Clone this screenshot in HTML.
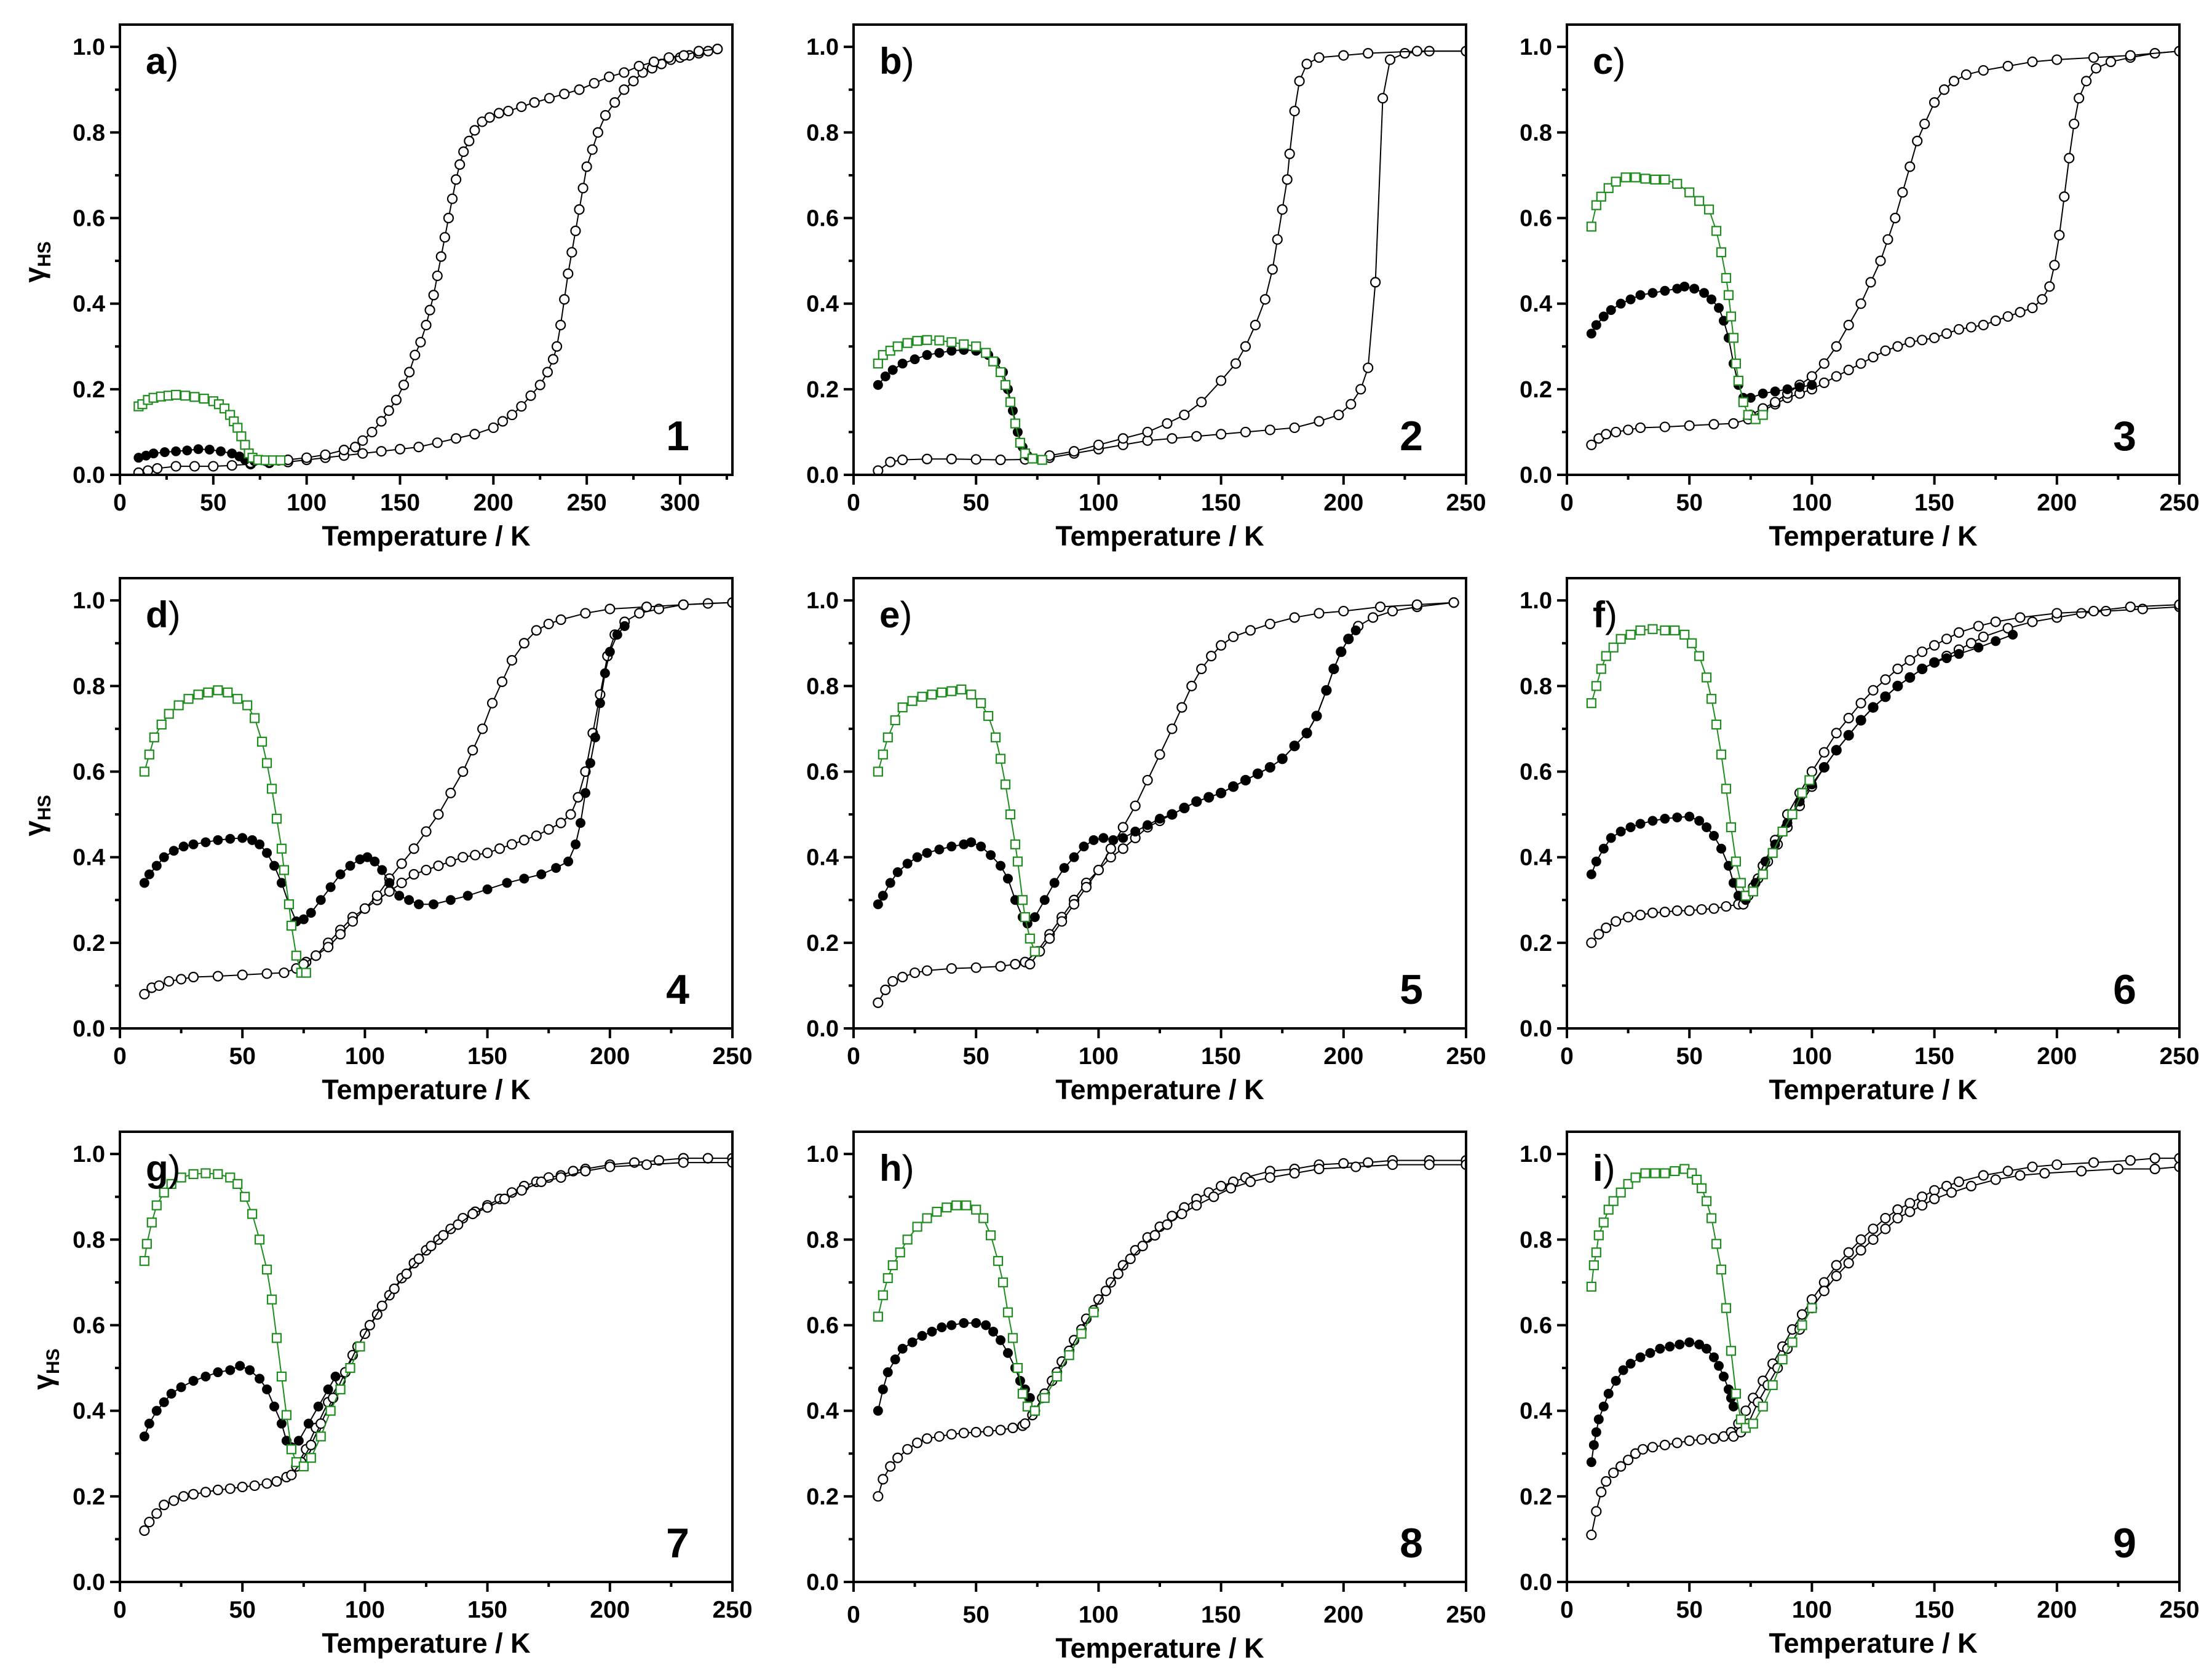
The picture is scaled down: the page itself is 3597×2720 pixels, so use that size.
<!DOCTYPE html>
<html><head><meta charset="utf-8"><style>
html,body{margin:0;padding:0;background:#fff}
svg{display:block}
text{font-family:"Liberation Sans",Arial,sans-serif;font-weight:bold;fill:#000}
</style></head><body>
<svg id="fig" width="3597" height="2720" viewBox="0 0 3597 2720" xmlns="http://www.w3.org/2000/svg"></svg>
<script>
// ---- data: [Temperature K, gamma_HS] ----
const a_open1=[[10,0.005],[15,0.01],[20,0.015],[30,0.02],[40,0.02],[50,0.02],[60,0.022],[70,0.025],[80,0.028],[90,0.03],[100,0.035],[110,0.04],[120,0.045],[130,0.05],[140,0.055],[150,0.06],[160,0.065],[170,0.075],[180,0.085],[190,0.095],[200,0.11],[205,0.125],[210,0.14],[215,0.16],[220,0.185],[225,0.21],[229,0.24],[232,0.27],[234,0.3],[236,0.35],[238,0.41],[240,0.47],[242,0.52],[244,0.57],[246,0.62],[248,0.67],[250,0.72],[253,0.76],[256,0.8],[260,0.84],[265,0.87],[270,0.9],[275,0.92],[280,0.94],[285,0.95],[290,0.96],[295,0.97],[300,0.975],[305,0.98],[310,0.985],[315,0.99],[320,0.995]];
const a_open2=[[70,0.028],[80,0.03],[90,0.035],[100,0.04],[110,0.047],[120,0.058],[126,0.065],[130,0.08],[135,0.1],[140,0.125],[144,0.15],[148,0.175],[152,0.21],[155,0.24],[158,0.28],[161,0.31],[164,0.35],[166,0.385],[168,0.42],[170,0.465],[172,0.51],[174,0.555],[176,0.6],[178,0.645],[180,0.69],[182,0.725],[184,0.755],[187,0.78],[190,0.805],[194,0.825],[198,0.835],[203,0.845],[208,0.85],[215,0.86],[222,0.87],[230,0.88],[238,0.89],[246,0.9],[254,0.915],[262,0.93],[270,0.94],[278,0.955],[286,0.965],[294,0.975],[302,0.98],[310,0.99],[320,0.995]];
const a_fill=[[10,0.04],[14,0.045],[18,0.05],[24,0.053],[30,0.055],[36,0.057],[42,0.06],[48,0.059],[54,0.055],[60,0.05],[64,0.043],[67,0.035],[72,0.032],[78,0.032],[85,0.033]];
const a_green=[[10,0.16],[12,0.165],[15,0.175],[18,0.18],[22,0.183],[26,0.185],[30,0.187],[35,0.185],[40,0.182],[45,0.178],[50,0.172],[53,0.165],[56,0.155],[59,0.14],[61,0.125],[63,0.11],[65,0.09],[67,0.07],[69,0.05],[71,0.04],[74,0.035],[78,0.034],[82,0.034],[86,0.034]];

const b_open1=[[10,0.01],[15,0.03],[20,0.035],[30,0.037],[40,0.037],[50,0.036],[60,0.035],[70,0.036],[80,0.04],[90,0.05],[100,0.06],[110,0.07],[120,0.08],[130,0.085],[140,0.09],[150,0.095],[160,0.1],[170,0.105],[180,0.11],[190,0.125],[198,0.14],[203,0.165],[207,0.2],[210,0.25],[213,0.45],[216,0.88],[219,0.97],[225,0.985],[235,0.99],[250,0.99]];
const b_open2=[[80,0.045],[90,0.055],[100,0.07],[110,0.085],[120,0.1],[128,0.12],[135,0.14],[142,0.17],[150,0.22],[156,0.26],[160,0.3],[164,0.35],[168,0.41],[171,0.48],[173,0.55],[175,0.62],[177,0.69],[178,0.75],[180,0.85],[182,0.92],[185,0.96],[190,0.975],[200,0.98],[210,0.985],[230,0.99],[250,0.99]];
const b_fill=[[10,0.21],[13,0.23],[16,0.245],[20,0.26],[25,0.27],[30,0.28],[35,0.285],[40,0.29],[45,0.292],[50,0.29],[55,0.28],[58,0.265],[61,0.24],[63,0.2],[65,0.15],[67,0.1],[69,0.065],[71,0.045]];
const b_green=[[10,0.26],[12,0.28],[15,0.29],[18,0.3],[22,0.308],[26,0.313],[30,0.315],[35,0.314],[40,0.31],[45,0.305],[50,0.3],[54,0.285],[57,0.265],[60,0.24],[62,0.21],[64,0.17],[66,0.12],[68,0.075],[70,0.05],[73,0.038],[77,0.035]];

const c_open1=[[10,0.07],[13,0.085],[16,0.095],[20,0.1],[25,0.105],[30,0.11],[40,0.112],[50,0.115],[60,0.118],[68,0.12],[74,0.13],[80,0.15],[85,0.165],[90,0.18],[95,0.19],[100,0.2],[105,0.215],[110,0.23],[115,0.245],[120,0.26],[125,0.275],[130,0.29],[135,0.3],[140,0.31],[145,0.315],[150,0.32],[155,0.33],[160,0.34],[165,0.345],[170,0.35],[175,0.36],[180,0.37],[185,0.38],[190,0.39],[194,0.41],[197,0.44],[199,0.49],[201,0.56],[203,0.65],[205,0.74],[207,0.82],[209,0.88],[212,0.92],[216,0.95],[222,0.965],[230,0.975],[240,0.985],[250,0.99]];
const c_open2=[[75,0.14],[80,0.155],[85,0.17],[90,0.19],[95,0.21],[100,0.23],[105,0.26],[110,0.3],[115,0.35],[120,0.4],[124,0.45],[128,0.5],[131,0.55],[134,0.6],[137,0.66],[140,0.72],[143,0.78],[146,0.82],[150,0.87],[154,0.9],[158,0.92],[163,0.935],[170,0.945],[180,0.955],[190,0.965],[200,0.97],[215,0.975],[230,0.98],[250,0.99]];
const c_fill=[[10,0.33],[12,0.35],[15,0.37],[18,0.385],[22,0.4],[26,0.41],[30,0.42],[35,0.425],[40,0.43],[45,0.435],[48,0.44],[52,0.435],[56,0.425],[59,0.41],[62,0.39],[64,0.36],[66,0.32],[68,0.26],[70,0.21],[72,0.18],[75,0.18],[80,0.19],[85,0.195],[90,0.2],[95,0.205],[100,0.21]];
const c_green=[[10,0.58],[12,0.63],[14,0.65],[17,0.67],[20,0.685],[24,0.695],[28,0.695],[32,0.692],[36,0.69],[40,0.69],[45,0.68],[50,0.66],[54,0.64],[58,0.62],[61,0.57],[63,0.52],[65,0.46],[66,0.42],[67,0.37],[68,0.32],[69,0.26],[70,0.22],[72,0.17],[74,0.14],[77,0.13],[80,0.14]];

const d_open1=[[10,0.08],[13,0.095],[16,0.1],[20,0.11],[25,0.115],[30,0.12],[40,0.122],[50,0.125],[60,0.128],[67,0.13],[72,0.14],[76,0.155],[80,0.17],[85,0.2],[90,0.23],[95,0.26],[100,0.28],[105,0.3],[110,0.32],[115,0.34],[120,0.36],[125,0.37],[130,0.38],[135,0.39],[140,0.4],[145,0.405],[150,0.41],[155,0.42],[160,0.43],[165,0.44],[170,0.45],[175,0.465],[180,0.48],[184,0.5],[187,0.54],[190,0.6],[193,0.69],[196,0.78],[199,0.87],[202,0.92],[206,0.95],[212,0.97],[220,0.98],[230,0.99],[240,0.993],[250,0.995]];
const d_open2=[[75,0.15],[80,0.17],[85,0.19],[90,0.22],[95,0.25],[100,0.28],[105,0.31],[110,0.35],[115,0.385],[120,0.42],[125,0.46],[130,0.5],[135,0.55],[140,0.6],[144,0.65],[148,0.7],[152,0.76],[156,0.81],[160,0.86],[165,0.9],[170,0.93],[175,0.945],[180,0.955],[190,0.97],[200,0.98],[215,0.985],[230,0.99],[250,0.995]];
const d_fill=[[10,0.34],[12,0.36],[15,0.38],[18,0.4],[22,0.415],[26,0.425],[30,0.43],[35,0.435],[40,0.44],[45,0.443],[50,0.445],[54,0.44],[57,0.43],[60,0.41],[63,0.38],[66,0.34],[69,0.29],[72,0.25],[75,0.255],[78,0.27],[82,0.3],[86,0.33],[90,0.36],[94,0.38],[98,0.395],[101,0.4],[104,0.39],[107,0.37],[110,0.34],[114,0.31],[118,0.3],[122,0.29],[128,0.29],[135,0.3],[142,0.31],[150,0.325],[158,0.34],[165,0.35],[172,0.36],[178,0.375],[183,0.39],[186,0.43],[188,0.48],[190,0.55],[192,0.62],[194,0.68],[196,0.76],[198,0.83],[200,0.88],[203,0.92],[206,0.94]];
const d_green=[[10,0.6],[12,0.64],[14,0.68],[17,0.71],[20,0.735],[24,0.755],[28,0.77],[32,0.78],[36,0.785],[40,0.79],[44,0.785],[48,0.77],[52,0.755],[55,0.725],[58,0.67],[60,0.62],[62,0.56],[64,0.49],[66,0.42],[67,0.37],[69,0.29],[70,0.24],[72,0.17],[74,0.13],[76,0.13]];

const e_open1=[[10,0.06],[13,0.09],[16,0.11],[20,0.12],[25,0.13],[30,0.135],[40,0.14],[50,0.142],[60,0.145],[66,0.15],[70,0.155],[75,0.18],[80,0.22],[85,0.26],[90,0.3],[95,0.34],[100,0.37],[105,0.4],[110,0.42],[115,0.445],[120,0.47],[125,0.485],[130,0.5],[135,0.515],[140,0.53],[145,0.54],[150,0.55],[155,0.565],[160,0.58],[165,0.595],[170,0.61],[175,0.63],[180,0.66],[185,0.69],[189,0.73],[193,0.79],[196,0.84],[199,0.88],[202,0.91],[206,0.94],[212,0.96],[220,0.975],[230,0.985],[245,0.995]];
const e_open2=[[72,0.15],[76,0.18],[80,0.21],[85,0.25],[90,0.29],[95,0.33],[100,0.37],[105,0.42],[110,0.47],[115,0.52],[120,0.58],[125,0.64],[130,0.7],[134,0.75],[138,0.8],[142,0.84],[146,0.87],[150,0.895],[155,0.915],[162,0.93],[170,0.945],[180,0.96],[190,0.97],[200,0.975],[215,0.985],[230,0.99],[245,0.995]];
const e_fill=[[10,0.29],[12,0.31],[15,0.34],[18,0.365],[22,0.385],[26,0.4],[30,0.41],[35,0.418],[40,0.425],[45,0.43],[48,0.435],[52,0.425],[56,0.405],[60,0.38],[63,0.35],[66,0.3],[69,0.26],[71,0.245],[74,0.26],[78,0.3],[82,0.34],[86,0.375],[90,0.4],[94,0.425],[98,0.44],[102,0.445],[106,0.44],[110,0.445],[115,0.46],[120,0.475],[125,0.49],[130,0.5],[135,0.515],[140,0.53],[145,0.54],[150,0.55],[155,0.565],[160,0.58],[165,0.595],[170,0.61],[175,0.63],[180,0.66],[185,0.69],[189,0.73],[193,0.79],[196,0.84],[199,0.88],[202,0.91],[205,0.93]];
const e_green=[[10,0.6],[12,0.64],[14,0.68],[17,0.72],[20,0.75],[24,0.765],[28,0.775],[32,0.78],[36,0.785],[40,0.788],[44,0.792],[48,0.78],[52,0.76],[55,0.73],[58,0.68],[60,0.63],[62,0.57],[64,0.5],[66,0.43],[67,0.39],[69,0.3],[70,0.26],[72,0.21],[74,0.18]];

const f_open1=[[10,0.2],[13,0.22],[16,0.235],[20,0.25],[25,0.26],[30,0.265],[35,0.27],[40,0.272],[45,0.275],[50,0.275],[55,0.278],[60,0.28],[65,0.285],[70,0.29],[74,0.31],[78,0.35],[82,0.39],[86,0.43],[90,0.47],[95,0.52],[100,0.565],[105,0.61],[110,0.65],[115,0.685],[120,0.72],[125,0.75],[130,0.775],[135,0.8],[140,0.82],[145,0.84],[150,0.855],[155,0.87],[160,0.885],[165,0.9],[170,0.915],[180,0.935],[190,0.95],[200,0.96],[210,0.97],[220,0.975],[235,0.98],[250,0.985]];
const f_open2=[[72,0.29],[76,0.33],[80,0.38],[85,0.44],[90,0.5],[95,0.55],[100,0.6],[105,0.645],[110,0.69],[115,0.725],[120,0.76],[125,0.79],[130,0.815],[135,0.84],[140,0.86],[145,0.88],[150,0.895],[155,0.91],[160,0.925],[168,0.94],[175,0.95],[185,0.96],[200,0.97],[215,0.975],[230,0.985],[250,0.99]];
const f_fill=[[10,0.36],[12,0.39],[15,0.42],[18,0.445],[22,0.46],[26,0.47],[30,0.478],[35,0.485],[40,0.49],[45,0.493],[50,0.495],[54,0.485],[57,0.47],[60,0.45],[63,0.42],[66,0.38],[68,0.34],[70,0.31],[73,0.3],[77,0.34],[81,0.39],[85,0.43],[90,0.48],[95,0.53],[100,0.57],[105,0.61],[110,0.65],[115,0.685],[120,0.72],[125,0.75],[130,0.775],[135,0.8],[140,0.82],[145,0.84],[150,0.855],[155,0.865],[160,0.875],[168,0.89],[175,0.905],[182,0.92]];
const f_green=[[10,0.76],[12,0.8],[14,0.84],[16,0.87],[19,0.89],[22,0.91],[26,0.92],[30,0.93],[35,0.933],[40,0.93],[44,0.93],[48,0.92],[51,0.9],[54,0.87],[57,0.82],[59,0.77],[61,0.71],[63,0.64],[65,0.56],[67,0.47],[69,0.39],[71,0.34],[73,0.31],[76,0.32],[80,0.36],[84,0.41],[88,0.46],[92,0.5],[96,0.55],[99,0.58]];

const g_open1=[[10,0.12],[12,0.14],[15,0.16],[18,0.18],[22,0.19],[26,0.2],[30,0.205],[35,0.21],[40,0.215],[45,0.218],[50,0.222],[55,0.225],[60,0.23],[64,0.235],[68,0.245],[72,0.27],[76,0.31],[80,0.36],[85,0.42],[90,0.47],[95,0.53],[100,0.58],[105,0.625],[110,0.67],[115,0.71],[120,0.745],[125,0.775],[130,0.8],[135,0.825],[140,0.85],[145,0.865],[150,0.88],[155,0.895],[160,0.91],[165,0.925],[170,0.935],[175,0.945],[180,0.95],[185,0.96],[190,0.965],[200,0.975],[210,0.98],[220,0.985],[230,0.99],[240,0.99],[250,0.99]];
const g_open2=[[70,0.25],[74,0.28],[78,0.32],[82,0.37],[87,0.43],[92,0.49],[97,0.55],[102,0.6],[107,0.645],[112,0.685],[117,0.72],[122,0.755],[127,0.785],[132,0.81],[138,0.835],[144,0.86],[150,0.875],[157,0.895],[164,0.915],[172,0.935],[180,0.945],[190,0.96],[200,0.97],[215,0.975],[230,0.98],[250,0.98]];
const g_fill=[[10,0.34],[12,0.37],[15,0.4],[18,0.42],[21,0.44],[25,0.455],[30,0.47],[35,0.48],[40,0.49],[45,0.495],[49,0.505],[53,0.495],[57,0.475],[60,0.45],[63,0.41],[66,0.37],[68,0.33],[70,0.315],[73,0.33],[77,0.37],[81,0.41],[85,0.45],[88,0.48]];
const g_green=[[10,0.75],[11,0.79],[13,0.84],[15,0.88],[18,0.91],[21,0.93],[25,0.945],[30,0.953],[35,0.955],[40,0.953],[45,0.945],[48,0.93],[51,0.9],[54,0.86],[57,0.8],[60,0.73],[62,0.66],[64,0.57],[66,0.48],[68,0.39],[70,0.31],[72,0.28],[75,0.27],[78,0.29],[82,0.34],[86,0.4],[90,0.45],[94,0.5],[98,0.55]];

const h_open1=[[10,0.2],[12,0.24],[15,0.27],[18,0.29],[22,0.31],[26,0.325],[30,0.335],[35,0.34],[40,0.345],[45,0.348],[50,0.35],[55,0.352],[60,0.355],[65,0.36],[69,0.365],[73,0.39],[77,0.43],[81,0.47],[85,0.515],[90,0.565],[95,0.615],[100,0.66],[105,0.7],[110,0.74],[115,0.775],[120,0.805],[125,0.83],[130,0.855],[135,0.875],[140,0.895],[145,0.91],[150,0.925],[155,0.935],[160,0.945],[170,0.96],[180,0.965],[190,0.975],[200,0.978],[210,0.98],[220,0.985],[235,0.985],[250,0.985]];
const h_open2=[[70,0.37],[74,0.4],[78,0.44],[83,0.49],[88,0.54],[93,0.59],[98,0.635],[103,0.68],[108,0.72],[113,0.755],[118,0.785],[123,0.81],[128,0.835],[134,0.86],[140,0.88],[147,0.9],[154,0.92],[162,0.935],[170,0.945],[180,0.955],[190,0.965],[205,0.97],[220,0.975],[235,0.975],[250,0.975]];
const h_fill=[[10,0.4],[12,0.45],[14,0.49],[17,0.52],[20,0.545],[24,0.56],[28,0.575],[32,0.585],[36,0.595],[40,0.6],[45,0.605],[50,0.605],[54,0.6],[57,0.585],[60,0.565],[63,0.535],[66,0.5],[68,0.47],[70,0.45],[72,0.43]];
const h_green=[[10,0.62],[12,0.67],[14,0.71],[16,0.74],[19,0.77],[22,0.8],[26,0.83],[30,0.85],[34,0.865],[38,0.875],[42,0.88],[46,0.88],[50,0.87],[53,0.85],[56,0.81],[59,0.75],[61,0.7],[63,0.63],[65,0.57],[67,0.5],[69,0.44],[71,0.41],[74,0.4],[78,0.43],[83,0.48],[88,0.53],[93,0.58],[98,0.63]];

const i_open1=[[10,0.11],[12,0.165],[14,0.21],[16,0.235],[19,0.255],[22,0.27],[25,0.285],[28,0.3],[31,0.31],[35,0.315],[40,0.32],[45,0.325],[50,0.33],[55,0.333],[60,0.335],[64,0.34],[67,0.35],[70,0.37],[73,0.4],[76,0.43],[80,0.47],[84,0.51],[88,0.55],[92,0.59],[96,0.625],[100,0.66],[105,0.7],[110,0.74],[115,0.77],[120,0.8],[125,0.825],[130,0.85],[135,0.87],[140,0.885],[145,0.9],[150,0.915],[155,0.925],[160,0.935],[170,0.95],[180,0.96],[190,0.97],[200,0.975],[215,0.98],[230,0.985],[240,0.99],[250,0.99]];
const i_open2=[[68,0.34],[71,0.35],[74,0.37],[78,0.42],[82,0.46],[86,0.5],[90,0.545],[95,0.59],[100,0.64],[105,0.68],[110,0.715],[115,0.745],[120,0.775],[125,0.8],[130,0.825],[135,0.85],[140,0.865],[145,0.88],[150,0.895],[157,0.91],[165,0.925],[175,0.94],[185,0.95],[195,0.955],[210,0.96],[225,0.965],[240,0.965],[250,0.97]];
const i_fill=[[10,0.28],[11,0.32],[12,0.35],[13,0.38],[15,0.41],[17,0.44],[20,0.47],[23,0.495],[26,0.51],[30,0.525],[34,0.535],[38,0.545],[42,0.55],[46,0.555],[50,0.56],[54,0.555],[57,0.545],[60,0.525],[62,0.505],[64,0.48],[66,0.45],[67,0.43],[68,0.41]];
const i_green=[[10,0.69],[11,0.74],[12,0.77],[13,0.81],[15,0.84],[17,0.87],[19,0.89],[22,0.91],[25,0.93],[28,0.945],[32,0.955],[36,0.955],[40,0.955],[44,0.96],[48,0.965],[51,0.955],[53,0.94],[55,0.92],[57,0.89],[59,0.85],[61,0.79],[63,0.73],[65,0.64],[67,0.54],[69,0.44],[71,0.38],[73,0.36],[76,0.37],[80,0.41],[84,0.46],[88,0.52],[92,0.56],[96,0.6],[100,0.64]];

const yTicks=[0,0.2,0.4,0.6,0.8,1.0];
const yTickLabels=["0.0","0.2","0.4","0.6","0.8","1.0"];
const xTicksA=[0,50,100,150,200,250,300];
const xTicks=[0,50,100,150,200,250];

const panels=[
 {id:'a',num:'1',L:195,T:40,xmax:328,xt:xTicksA,open:[a_open1,a_open2],fill:a_fill,green:a_green,ytitle:56},
 {id:'b',num:'2',L:1388,T:40,xmax:250,xt:xTicks,open:[b_open1,b_open2],fill:b_fill,green:b_green},
 {id:'c',num:'3',L:2548,T:40,xmax:250,xt:xTicks,open:[c_open1,c_open2],fill:c_fill,green:c_green},
 {id:'d',num:'4',L:195,T:940,xmax:250,xt:xTicks,open:[d_open1,d_open2],fill:d_fill,green:d_green,ytitle:56},
 {id:'e',num:'5',L:1388,T:940,xmax:250,xt:xTicks,open:[e_open1,e_open2],fill:e_fill,green:e_green},
 {id:'f',num:'6',L:2548,T:940,xmax:250,xt:xTicks,open:[f_open1,f_open2],fill:f_fill,green:f_green},
 {id:'g',num:'7',L:195,T:1840,xmax:250,xt:xTicks,open:[g_open1,g_open2],fill:g_fill,green:g_green,ytitle:70},
 {id:'h',num:'8',L:1388,T:1840,xmax:250,xt:xTicks,open:[h_open1,h_open2],fill:h_fill,green:h_green,xtOff:8},
 {id:'i',num:'9',L:2548,T:1840,xmax:250,xt:xTicks,open:[i_open1,i_open2],fill:i_fill,green:i_green}
];
const W=996,H=732,YMAX=1.052,GREEN='#1e8c1e';
const NS='http://www.w3.org/2000/svg';
const svg=document.getElementById('fig');
function mk(tag,attrs,parent){const e=document.createElementNS(NS,tag);for(const k in attrs)e.setAttribute(k,attrs[k]);(parent||svg).appendChild(e);return e;}

panels.forEach(p=>{
  const g=mk('g',{});
  
  
  const xs=t=>p.L+t/p.xmax*W;
  const ys=v=>p.T+H-v/YMAX*H;
  const B=p.T+H;
  // clip
  const cp=mk('clipPath',{id:'clip'+p.id},g);
  mk('rect',{x:p.L,y:p.T,width:W,height:H},cp);
  const plot=mk('g',{'clip-path':'url(#clip'+p.id+')'},g);
  
  
  function line(data,color,name){
    const pl=mk('polyline',{points:data.map(d=>xs(d[0])+','+ys(d[1])).join(' '),fill:'none',stroke:color,'stroke-width':2},plot);
    
    
  }
  p.open.forEach((s,k)=>{
    line(s,'#000','open-series-'+(k+1));
    s.forEach(d=>{const c=mk('circle',{cx:xs(d[0]),cy:ys(d[1]),r:7.5,fill:'#fff',stroke:'#000','stroke-width':2.2},plot);
      
      });
  });
  line(p.fill,'#000','filled-series');
  p.fill.forEach(d=>{const c=mk('circle',{cx:xs(d[0]),cy:ys(d[1]),r:8,fill:'#000'},plot);
    
    });
  line(p.green,GREEN,'green-series');
  p.green.forEach(d=>{const r=mk('rect',{x:xs(d[0])-7,y:ys(d[1])-7,width:14,height:14,fill:'#fff',stroke:GREEN,'stroke-width':2.2},plot);
    
    });
  // frame
  const fr=mk('rect',{x:p.L,y:p.T,width:W,height:H,fill:'none',stroke:'#000','stroke-width':4},g);
  
  
  // y ticks
  yTicks.forEach((v,k)=>{
    mk('line',{x1:p.L-16,x2:p.L,y1:ys(v),y2:ys(v),stroke:'#000','stroke-width':4},g);
    if(k<yTicks.length-1) mk('line',{x1:p.L-8,x2:p.L,y1:ys(v+0.1),y2:ys(v+0.1),stroke:'#000','stroke-width':4},g);
    const t=mk('text',{x:p.L-24,y:ys(v)+13,'text-anchor':'end','font-size':38},g);
    
    
    t.textContent=yTickLabels[k];
  });
  // x ticks
  const off=p.xtOff||0;
  p.xt.forEach(v=>{
    mk('line',{x1:xs(v),x2:xs(v),y1:B,y2:B+16,stroke:'#000','stroke-width':4},g);
    if(v+25<=p.xmax) mk('line',{x1:xs(v+25),x2:xs(v+25),y1:B,y2:B+8,stroke:'#000','stroke-width':4},g);
    const t=mk('text',{x:xs(v),y:B+58+off,'text-anchor':'middle','font-size':39},g);
    
    
    t.textContent=String(v);
  });
  const xt=mk('text',{x:p.L+W/2,y:B+115+off,'text-anchor':'middle','font-size':45},g);
  
  
  xt.textContent='Temperature / K';
  if(p.ytitle){
    const cy=p.T+H/2+20;
    const yt=mk('text',{x:0,y:0,'text-anchor':'middle','font-size':46,transform:'translate('+(p.ytitle+16)+','+cy+') rotate(-90)'},g);
    
    
    const t1=mk('tspan',{},yt);t1.textContent='γ';
    const t2=mk('tspan',{'font-size':30,dy:10},yt);t2.textContent='HS';
  }
  const lab=mk('text',{x:p.L+42,y:p.T+80,'font-size':60},g);
  
  
  const l1=mk('tspan',{},lab);l1.textContent=p.id;
  const l2=mk('tspan',{'font-weight':'normal'},lab);l2.textContent=')';
  const num=mk('text',{x:p.L+W-70,y:p.T+H-40,'text-anchor':'end','font-size':68},g);
  
  
  num.textContent=p.num;
});
</script>
</body></html>
